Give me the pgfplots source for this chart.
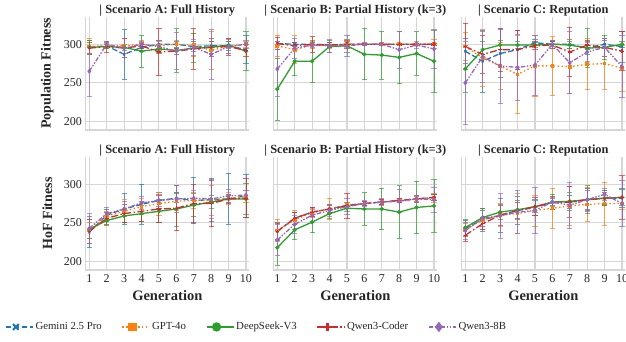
\documentclass[border=0pt]{standalone}
\usepackage{fontspec}
\setmainfont{Liberation Serif}
\usepackage{pgfplots}
\pgfplotsset{compat=1.18}
\definecolor{cGem}{RGB}{31,119,180}
\definecolor{cGpt}{RGB}{255,127,14}
\definecolor{cDs}{RGB}{44,160,44}
\definecolor{cQc}{RGB}{214,39,40}
\definecolor{cQ8}{RGB}{148,103,189}
\definecolor{txt}{RGB}{38,38,38}
\definecolor{gridc}{RGB}{214,214,214}
\pgfplotsset{
  panel/.style={
    scale only axis, width=164pt, height=113pt,
    xmin=0.77, xmax=10.19, ymin=189, ymax=335.3,
    xtick={1,2,3,4,5,6,7,8,9,10}, ytick={200,250,300},
    grid=major, major grid style={gridc, line width=1.1pt},
    axis x line*=bottom, axis y line*=left,
    axis line style={gridc, line width=1.1pt},
    major tick length=0pt,
    /pgf/number format/assume math mode=true,
    tick label style={font=\fontsize{12}{14}\selectfont, text=txt},
    xticklabel style={yshift=-1pt},
    title style={at={(0.5,1)}, anchor=south, yshift=-6pt, inner sep=0.5pt, font=\bfseries\fontsize{12.4}{14}\selectfont, text=txt},
    every axis y label/.style={at={(axis description cs:-0.232,0.5)}, rotate=90, anchor=center, font=\bfseries\fontsize{14}{16}\selectfont, text=txt},
    every axis x label/.style={at={(axis description cs:0.5,-0.23)}, anchor=center, font=\bfseries\fontsize{14.5}{16}\selectfont, text=txt},
  },
  eb/.style={
    error bars/y dir=both, error bars/y explicit,
    error bars/error bar style={solid, line width=0.9pt, opacity=0.7},
    error bars/error mark options={solid, rotate=90, mark size=2.6pt, line width=0.9pt, opacity=0.7},
  },
  notop/.style={xticklabels={}},
  noleft/.style={yticklabels={}},
  sGem/.style={eb, color=cGem, line width=1.3pt, dash pattern=on 5.5pt off 2.4pt, mark=x, mark size=1.6pt, mark options={solid, line width=1pt}},
  sGpt/.style={eb, color=cGpt, line width=1.3pt, dash pattern=on 1.5pt off 2.4pt, mark=square*, mark size=1.2pt, mark options={solid}},
  sDs/.style={eb, color=cDs, line width=1.3pt, solid, mark=*, mark size=1.4pt, mark options={solid}},
  sQc/.style={eb, color=cQc, line width=1.3pt, dash pattern=on 7pt off 2.4pt on 1.5pt off 2.4pt, mark=+, mark size=1.8pt, mark options={solid, line width=1.1pt}},
  sQ8/.style={eb, color=cQ8, line width=1.3pt, dash pattern=on 4.5pt off 1.5pt on 1.5pt off 1.5pt on 1.5pt off 1.5pt, mark=diamond*, mark size=1.6pt, mark options={solid}},
  lGem/.style={color=cGem, line width=1.3pt, dash pattern=on 5.5pt off 2.4pt, mark=x, mark size=4pt, mark options={solid, line width=2.2pt}},
  lGpt/.style={color=cGpt, line width=1.3pt, dash pattern=on 1.5pt off 2.4pt, mark=square*, mark size=3.4pt, mark options={solid}},
  lDs/.style={color=cDs, line width=1.3pt, solid, mark=*, mark size=4pt, mark options={solid}},
  lQc/.style={color=cQc, line width=1.3pt, dash pattern=on 7pt off 2.4pt on 1.5pt off 2.4pt, mark=+, mark size=4pt, mark options={solid, line width=2.4pt}},
  lQ8/.style={color=cQ8, line width=1.3pt, dash pattern=on 4.5pt off 1.5pt on 1.5pt off 1.5pt on 1.5pt off 1.5pt, mark=diamond*, mark size=4.2pt, mark options={solid}},
  legend image code/.code={%
    \draw[mark repeat=2, mark phase=2, #1] plot coordinates {(0pt,0pt) (10pt,0pt) (20pt,0pt)};
    \path (0pt,0pt) -- (27pt,0pt);},
}
\begin{document}
\begin{tikzpicture}
% ---------------- top row ----------------
\begin{axis}[panel, notop, at={(85.3pt,211pt)}, anchor=south west,
  title={| Scenario A: Full History}, ylabel={Population Fitness}]
\addplot+[sGem] coordinates {(1,296) +- (0,9) (2,298) +- (0,4) (3,287) +- (0,32) (4,296) +- (0,5) (5,300) +- (0,5) (6,300) +- (0,4) (7,297) +- (0,6) (8,298) +- (0,6) (9,298) +- (0,6) (10,293) +- (0,18)};
\addplot+[sGpt] coordinates {(1,297) +- (0,10) (2,298) +- (0,3) (3,298) +- (0,10) (4,300) +- (0,5) (5,298) +- (0,6) (6,300) +- (0,5) (7,299) +- (0,15) (8,292) +- (0,25) (9,298) +- (0,10) (10,300) +- (0,4)};
\addplot+[sDs] coordinates {(1,296) +- (0,9) (2,297) +- (0,3) (3,296) +- (0,4) (4,291) +- (0,21) (5,294) +- (0,6) (6,292) +- (0,28) (7,295) +- (0,19) (8,296) +- (0,8) (9,299) +- (0,4) (10,291) +- (0,25)};
\addplot+[sQc] coordinates {(1,295) +- (0,7) (2,297) +- (0,7) (3,295) +- (0,12) (4,298) +- (0,4) (5,290) +- (0,30) (6,291) +- (0,4) (7,294) +- (0,26) (8,296) +- (0,12) (9,297) +- (0,11) (10,292) +- (0,8)};
\addplot+[sQ8] coordinates {(1,265) +- (0,32) (2,300) +- (0,3) (3,295) +- (0,12) (4,300) +- (0,4) (5,297) +- (0,8) (6,291) +- (0,24) (7,296) +- (0,10) (8,287) +- (0,32) (9,297) +- (0,9) (10,300) +- (0,5)};
\end{axis}
\begin{axis}[panel, notop, noleft, at={(273.3pt,211pt)}, anchor=south west,
  title={| Scenario B: Partial History (k=3)}]
\addplot+[sGem] coordinates {(1,301) +- (0,3) (2,300) +- (0,2) (3,300) +- (0,2) (4,299) +- (0,3) (5,300) +- (0,3) (6,300) +- (0,1) (7,300) +- (0,1) (8,300) +- (0,1) (9,300) +- (0,1) (10,300) +- (0,1)};
\addplot+[sGpt] coordinates {(1,298) +- (0,14) (2,293) +- (0,18) (3,299) +- (0,4) (4,298) +- (0,4) (5,300) +- (0,4) (6,300) +- (0,1) (7,300) +- (0,1) (8,300) +- (0,1) (9,300) +- (0,1) (10,300) +- (0,6)};
\addplot+[sDs] coordinates {(1,242) +- (0,40) (2,278) +- (0,19) (3,278) +- (0,27) (4,297) +- (0,8) (5,298) +- (0,8) (6,287) +- (0,33) (7,286) +- (0,31) (8,283) +- (0,34) (9,288) +- (0,28) (10,278) +- (0,40)};
\addplot+[sQc] coordinates {(1,301) +- (0,8) (2,298) +- (0,4) (3,300) +- (0,10) (4,299) +- (0,3) (5,300) +- (0,5) (6,300) +- (0,1) (7,300) +- (0,1) (8,300) +- (0,1) (9,300) +- (0,1) (10,300) +- (0,1)};
\addplot+[sQ8] coordinates {(1,268) +- (0,35) (2,295) +- (0,13) (3,299) +- (0,3) (4,298) +- (0,8) (5,298) +- (0,14) (6,300) +- (0,2) (7,300) +- (0,2) (8,293) +- (0,24) (9,299) +- (0,4) (10,294) +- (0,25)};
\end{axis}
\begin{axis}[panel, notop, noleft, at={(461.3pt,211pt)}, anchor=south west,
  title={| Scenario C: Reputation}]
\addplot+[sGem] coordinates {(1,291) +- (0,16) (2,278) +- (0,40) (3,288) +- (0,31) (4,293) +- (0,25) (5,302) +- (0,4) (6,300) +- (0,5) (7,300) +- (0,6) (8,295) +- (0,8) (9,300) +- (0,5) (10,297) +- (0,20)};
\addplot+[sGpt] coordinates {(1,297) +- (0,18) (2,282) +- (0,37) (3,272) +- (0,30) (4,261) +- (0,50) (5,272) +- (0,40) (6,272) +- (0,38) (7,271) +- (0,35) (8,274) +- (0,33) (9,275) +- (0,33) (10,269) +- (0,30)};
\addplot+[sDs] coordinates {(1,268) +- (0,30) (2,293) +- (0,10) (3,299) +- (0,6) (4,299) +- (0,5) (5,299) +- (0,3) (6,300) +- (0,3) (7,299) +- (0,4) (8,295) +- (0,25) (9,296) +- (0,16) (10,300) +- (0,4)};
\addplot+[sQc] coordinates {(1,297) +- (0,30) (2,287) +- (0,25) (3,293) +- (0,28) (4,293) +- (0,25) (5,298) +- (0,5) (6,299) +- (0,4) (7,290) +- (0,32) (8,299) +- (0,6) (9,296) +- (0,12) (10,291) +- (0,25)};
\addplot+[sQ8] coordinates {(1,250) +- (0,54) (2,284) +- (0,33) (3,272) +- (0,48) (4,270) +- (0,43) (5,273) +- (0,39) (6,300) +- (0,5) (7,276) +- (0,40) (8,290) +- (0,12) (9,296) +- (0,12) (10,271) +- (0,40)};
\end{axis}
% ---------------- bottom row ----------------
\begin{axis}[panel, at={(85.3pt,71pt)}, anchor=south west,
  title={| Scenario A: Full History}, ylabel={HoF Fitness}, xlabel={Generation},
  legend columns=5,
  legend style={draw=none, fill=none, inner sep=0pt, at={(axis description cs:-0.4896,-0.504)}, anchor=west,
    font=\fontsize{10.8}{12}\selectfont, text=txt,
    /tikz/every even column/.append style={column sep=18pt}}]
\addlegendimage{lGem}
\addlegendentry{Gemini 2.5 Pro}
\addlegendimage{lGpt}
\addlegendentry{GPT-4o}
\addlegendimage{lDs}
\addlegendentry{DeepSeek-V3}
\addlegendimage{lQc}
\addlegendentry{Qwen3-Coder}
\addlegendimage{lQ8}
\addlegendentry{Qwen3-8B}
\addplot+[sGem, forget plot] coordinates {(1,238) +- (0,20) (2,260) +- (0,8) (3,268) +- (0,20) (4,274) +- (0,26) (5,279) +- (0,10) (6,282) +- (0,6) (7,279) +- (0,30) (8,280) +- (0,28) (9,281) +- (0,33) (10,285) +- (0,28)};
\addplot+[sGpt, forget plot] coordinates {(1,240) +- (0,10) (2,259) +- (0,6) (3,265) +- (0,15) (4,271) +- (0,10) (5,275) +- (0,15) (6,278) +- (0,12) (7,279) +- (0,10) (8,279) +- (0,20) (9,282) +- (0,8) (10,284) +- (0,8)};
\addplot+[sDs, forget plot] coordinates {(1,242) +- (0,12) (2,253) +- (0,6) (3,259) +- (0,8) (4,262) +- (0,10) (5,265) +- (0,15) (6,268) +- (0,22) (7,273) +- (0,15) (8,277) +- (0,8) (9,281) +- (0,5) (10,281) +- (0,20)};
\addplot+[sQc, forget plot] coordinates {(1,239) +- (0,15) (2,256) +- (0,8) (3,262) +- (0,12) (4,265) +- (0,13) (5,268) +- (0,18) (6,269) +- (0,29) (7,275) +- (0,25) (8,275) +- (0,30) (9,281) +- (0,6) (10,282) +- (0,25)};
\addplot+[sQ8, forget plot] coordinates {(1,243) +- (0,19) (2,262) +- (0,8) (3,268) +- (0,10) (4,276) +- (0,8) (5,279) +- (0,8) (6,281) +- (0,17) (7,282) +- (0,10) (8,281) +- (0,25) (9,285) +- (0,8) (10,286) +- (0,6)};
\end{axis}
\begin{axis}[panel, noleft, at={(273.3pt,71pt)}, anchor=south west,
  title={| Scenario B: Partial History (k=3)}, xlabel={Generation}]
\addplot+[sGem] coordinates {(1,239) +- (0,12) (2,256) +- (0,8) (3,264) +- (0,6) (4,268) +- (0,6) (5,273) +- (0,4) (6,275) +- (0,3) (7,277) +- (0,3) (8,279) +- (0,3) (9,281) +- (0,3) (10,283) +- (0,4)};
\addplot+[sGpt] coordinates {(1,240) +- (0,14) (2,254) +- (0,12) (3,263) +- (0,6) (4,268) +- (0,13) (5,273) +- (0,4) (6,275) +- (0,3) (7,277) +- (0,3) (8,279) +- (0,3) (9,281) +- (0,3) (10,282) +- (0,6)};
\addplot+[sDs] coordinates {(1,218) +- (0,23) (2,241) +- (0,13) (3,251) +- (0,14) (4,262) +- (0,6) (5,269) +- (0,4) (6,268) +- (0,21) (7,268) +- (0,27) (8,264) +- (0,34) (9,270) +- (0,34) (10,272) +- (0,34)};
\addplot+[sQc] coordinates {(1,239) +- (0,10) (2,256) +- (0,8) (3,264) +- (0,6) (4,268) +- (0,5) (5,272) +- (0,16) (6,275) +- (0,3) (7,277) +- (0,3) (8,279) +- (0,3) (9,281) +- (0,4) (10,283) +- (0,4)};
\addplot+[sQ8] coordinates {(1,228) +- (0,20) (2,248) +- (0,12) (3,260) +- (0,8) (4,266) +- (0,8) (5,271) +- (0,10) (6,275) +- (0,4) (7,277) +- (0,5) (8,278) +- (0,15) (9,281) +- (0,4) (10,280) +- (0,16)};
\end{axis}
\begin{axis}[panel, noleft, at={(461.3pt,71pt)}, anchor=south west,
  title={| Scenario C: Reputation}, xlabel={Generation}]
\addplot+[sGem] coordinates {(1,243) +- (0,10) (2,254) +- (0,15) (3,260) +- (0,22) (4,266) +- (0,18) (5,270) +- (0,10) (6,277) +- (0,5) (7,277) +- (0,8) (8,280) +- (0,12) (9,282) +- (0,10) (10,282) +- (0,12)};
\addplot+[sGpt] coordinates {(1,241) +- (0,8) (2,254) +- (0,12) (3,260) +- (0,15) (4,262) +- (0,26) (5,266) +- (0,20) (6,269) +- (0,26) (7,272) +- (0,25) (8,274) +- (0,22) (9,275) +- (0,28) (10,275) +- (0,8)};
\addplot+[sDs] coordinates {(1,244) +- (0,10) (2,257) +- (0,12) (3,264) +- (0,10) (4,267) +- (0,12) (5,271) +- (0,8) (6,277) +- (0,10) (7,278) +- (0,12) (8,280) +- (0,18) (9,282) +- (0,10) (10,283) +- (0,10)};
\addplot+[sQc] coordinates {(1,234) +- (0,8) (2,249) +- (0,8) (3,260) +- (0,13) (4,266) +- (0,10) (5,271) +- (0,12) (6,276) +- (0,8) (7,277) +- (0,20) (8,280) +- (0,14) (9,282) +- (0,8) (10,283) +- (0,28)};
\addplot+[sQ8] coordinates {(1,240) +- (0,11) (2,256) +- (0,10) (3,259) +- (0,29) (4,264) +- (0,28) (5,266) +- (0,30) (6,277) +- (0,6) (7,273) +- (0,30) (8,280) +- (0,15) (9,287) +- (0,8) (10,275) +- (0,30)};
\end{axis}
\pgfresetboundingbox
\useasboundingbox (0pt,0pt) rectangle (626pt,341pt);
\end{tikzpicture}
\end{document}
